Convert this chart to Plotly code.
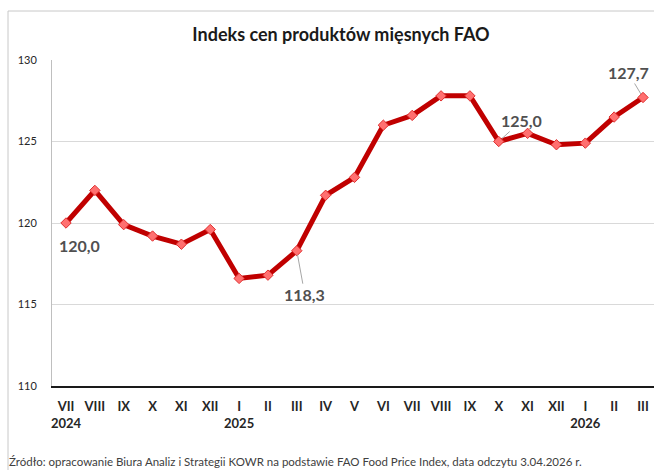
import plotly.graph_objects as go

months = ["VII", "VIII", "IX", "X", "XI", "XII", "I", "II", "III", "IV", "V",
          "VI", "VII", "VIII", "IX", "X", "XI", "XII", "I", "II", "III"]
years = ["2024", "", "", "", "", "", "2025", "", "", "", "", "", "", "", "", "", "", "", "2026", "", ""]
values = [120.0, 122.0, 119.9, 119.2, 118.7, 119.6, 116.6, 116.8, 118.3, 121.7, 122.8,
          126.0, 126.6, 127.8, 127.8, 125.0, 125.5, 124.8, 124.9, 126.5, 127.7]
y_ticks = [110, 115, 120, 125, 130]
title = "Indeks cen produktów mięsnych FAO"
source = "Źródło: opracowanie Biura Analiz i Strategii KOWR na podstawie FAO Food Price Index, data odczytu 3.04.2026 r."

W, H = 654, 470
L, R, T, B = 52, 0, 60, 84
pw = W - L - R
ph = H - T - B

xs = list(range(len(months)))
ticktext = [f"<b>{m}</b><br><b>{y}</b>" if y else f"<b>{m}</b><br> " for m, y in zip(months, years)]

fig = go.Figure()
fig.add_trace(go.Scatter(
    x=xs, y=values, mode="lines+markers",
    line=dict(color="#C00000", width=5),
    marker=dict(symbol="diamond", size=8, color="#FF7070", line=dict(color="#E03030", width=1)),
    hoverinfo="skip", showlegend=False,
))

lbl_font = dict(family="Lato, Open Sans, sans-serif", size=16, color="#505050")
# labelled points: (index, ax, ay, arrow)
labels = [(0, 13, 22, False), (8, 8, 44, True), (15, 23, -21, True), (20, -15, -25, True)]
for i, ax, ay, arrow in labels:
    txt = f"<b>{values[i]:.1f}</b>".replace(".", ",")
    fig.add_annotation(
        x=xs[i], y=values[i], text=txt, font=lbl_font,
        showarrow=True, ax=ax, ay=ay, arrowhead=0, arrowwidth=1,
        arrowcolor="#A6A6A6" if arrow else "rgba(0,0,0,0)",
        standoff=4,
    )

fig.add_annotation(
    text=source, xref="paper", yref="paper",
    x=(7 - L) / pw, y=-(461 - (T + ph)) / ph, xanchor="left", yanchor="middle",
    showarrow=False, font=dict(family="Lato, Open Sans, sans-serif", size=11.5, color="#404040"),
)

# outer frame
fig.add_shape(type="line", xref="paper", yref="paper",
              x0=(8 - L) / pw, x1=(8 - L) / pw, y0=(T + ph - 11) / ph, y1=-(B + 5) / ph,
              line=dict(color="#C8C8C8", width=1))
fig.add_shape(type="line", xref="paper", yref="paper",
              x0=(8 - L) / pw, x1=1.05, y0=(T + ph - 11) / ph, y1=(T + ph - 11) / ph,
              line=dict(color="#C8C8C8", width=1))

px_per = 28.85
fig.update_layout(
    width=W, height=H,
    margin=dict(l=L, r=R, t=T, b=B),
    paper_bgcolor="white", plot_bgcolor="white",
    font=dict(family="Lato, Open Sans, sans-serif", color="#262626"),
    title=dict(text=f"<b>{title}</b>", x=341 / W, xanchor="center", xref="container",
               y=1 - 35 / H, yanchor="middle", font=dict(size=18, color="#1a1a1a")),
    xaxis=dict(
        range=[-(66 - L) / px_per, (W - R - 66) / px_per],
        tickmode="array", tickvals=xs, ticktext=ticktext,
        tickfont=dict(size=13, color="#262626"),
        showgrid=False, zeroline=False,
        showline=True, linecolor="#1a1a1a", linewidth=2,
        ticks="", ticklabelstandoff=7,
    ),
    yaxis=dict(
        range=[110, 130], tickmode="array", tickvals=y_ticks,
        ticktext=[str(v) for v in y_ticks],
        tickfont=dict(size=11, color="#262626"),
        showgrid=True, gridcolor="#D9D9D9", gridwidth=1,
        zeroline=False, showline=True, linecolor="#BFBFBF", linewidth=1,
        ticks="", ticklabelstandoff=12,
    ),
)

fig.write_html("out.html", config={"displayModeBar": False},
               post_script="document.body.style.margin='0';document.body.style.overflow='hidden';")
